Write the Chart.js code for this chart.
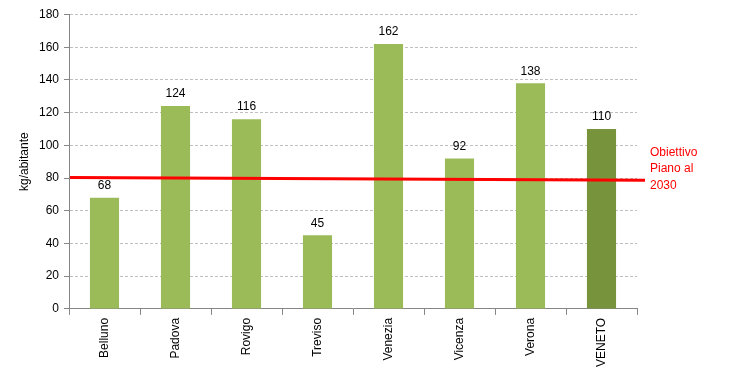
<!DOCTYPE html>
<html lang="it">
<head>
<meta charset="UTF-8">
<title>kg/abitante</title>
<script src="https://cdn.jsdelivr.net/npm/chart.js"></script>
<style>
  body { margin: 0; background: #fff; }
  #wrap { width: 738px; height: 385px; }
</style>
</head>
<body>
<div id="wrap"><canvas id="chart" width="738" height="385"></canvas></div>
<script>
const categories = ["Belluno", "Padova", "Rovigo", "Treviso", "Venezia", "Vicenza", "Verona", "VENETO"];
const values = [68, 124, 116, 45, 162, 92, 138, 110];
const yTicks = [0, 20, 40, 60, 80, 100, 120, 140, 160, 180];
// target line as drawn in the picture (slightly sloping)
const goalStart = 80.3;
const goalEnd = 78.6;
const goalLabel = ["Obiettivo", "Piano al", "2030"];

const barColors = values.map((v, i) => i === values.length - 1 ? "#77933C" : "#9BBB59");
const FONT = "Liberation Sans, Arial, sans-serif";

const extras = {
  id: "extras",
  afterDatasetsDraw(chart) {
    const ctx = chart.ctx;
    const y = chart.scales.y;
    const area = chart.chartArea;
    // value labels
    ctx.save();
    ctx.font = "12px " + FONT;
    ctx.fillStyle = "#000";
    ctx.textAlign = "center";
    ctx.textBaseline = "bottom";
    chart.getDatasetMeta(0).data.forEach((bar, i) => {
      ctx.fillText(values[i], bar.x, bar.y - 6);
    });
    // goal line
    ctx.strokeStyle = "#FF0000";
    ctx.lineWidth = 3;
    ctx.beginPath();
    ctx.moveTo(area.left + 1, y.getPixelForValue(goalStart));
    ctx.lineTo(area.right + 8, y.getPixelForValue(goalEnd));
    ctx.stroke();
    ctx.fillStyle = "#FF0000";
    ctx.textAlign = "left";
    ctx.textBaseline = "middle";
    const top = y.getPixelForValue(goalStart) - 25;
    goalLabel.forEach((t, i) => ctx.fillText(t, area.right + 13, top + i * 16.5));
    ctx.restore();
  }
};

new Chart(document.getElementById("chart"), {
  type: "bar",
  data: {
    labels: categories,
    datasets: [{
      data: values,
      backgroundColor: barColors,
      borderWidth: 0,
      barPercentage: 0.41,
      categoryPercentage: 1
    }]
  },
  options: {
    responsive: false,
    animation: false,
    layout: { padding: { left: 17, right: 101, top: 14.5, bottom: 15 } },
    plugins: { legend: { display: false }, tooltip: { enabled: false } },
    scales: {
      x: {
        grid: { display: true, drawOnChartArea: false, offset: true, color: "#868686", tickLength: 6 },
        border: { color: "#868686" },
        ticks: { color: "#000", font: { family: FONT, size: 12 }, minRotation: 90, maxRotation: 90, padding: 3 }
      },
      y: {
        min: 0, max: 180,
        afterBuildTicks(scale) { scale.ticks = yTicks.map(v => ({ value: v })); },
        afterFit(scale) { scale.width = 52; },
        grid: { color: "#BFBFBF", tickColor: "#868686", tickLength: 5 },
        border: { color: "#868686", dash: [3, 2] },
        ticks: { color: "#000", font: { family: FONT, size: 12 }, padding: 5 },
        title: { display: true, text: "kg/abitante", color: "#000", font: { family: FONT, size: 12 }, padding: 0 }
      }
    }
  },
  plugins: [extras]
});
</script>
</body>
</html>
